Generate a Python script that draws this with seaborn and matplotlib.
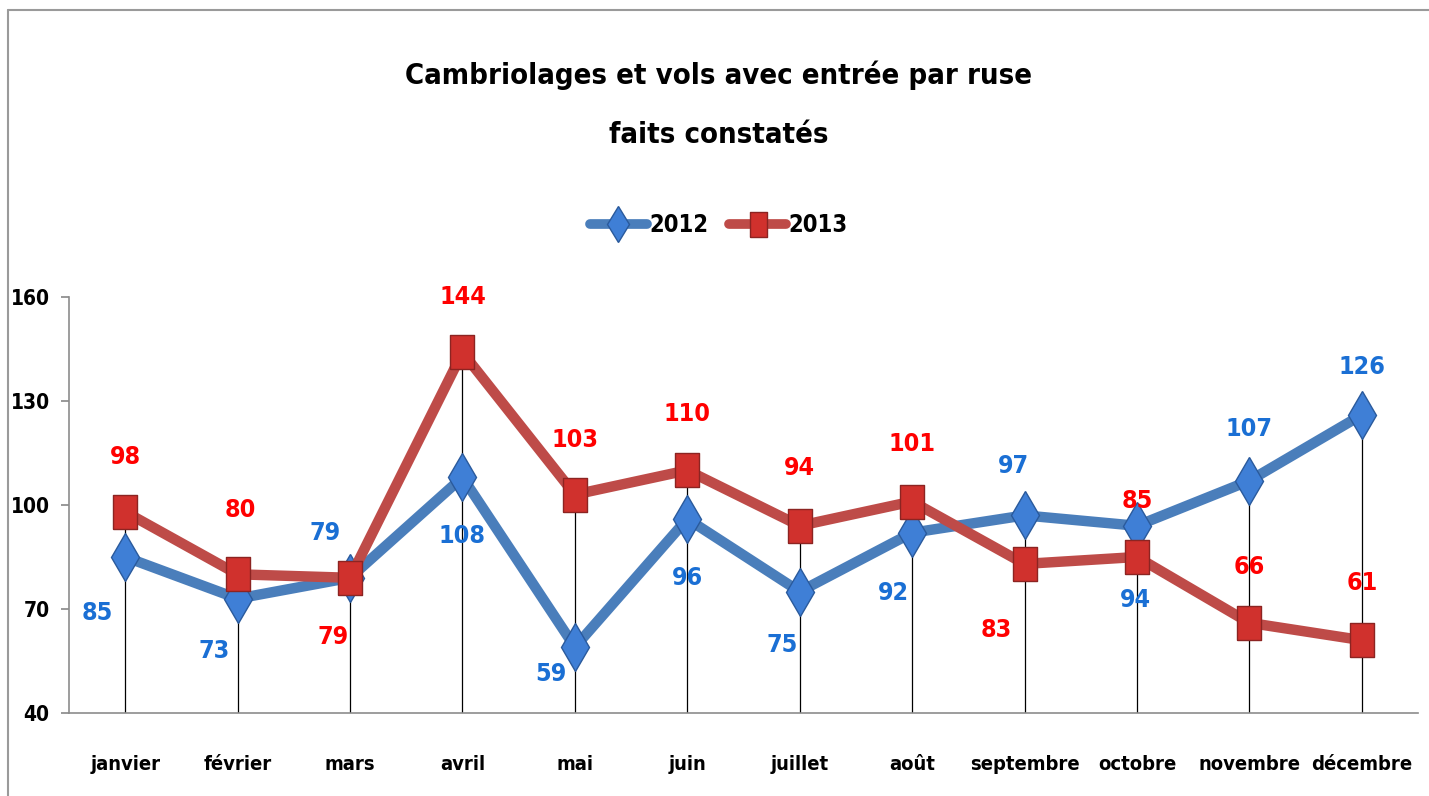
"""Cambriolages et vols avec entrée par ruse - faits constatés 2012/2013."""

import matplotlib
matplotlib.use("Agg")
import matplotlib.pyplot as plt
import pandas as pd
import seaborn as sns
from matplotlib.lines import Line2D

MOIS = ["janvier", "février", "mars", "avril", "mai", "juin", "juillet",
        "août", "septembre", "octobre", "novembre", "décembre"]
VALEURS_2012 = [85, 73, 79, 108, 59, 96, 75, 92, 97, 94, 107, 126]
VALEURS_2013 = [98, 80, 79, 144, 103, 110, 94, 101, 83, 85, 66, 61]
Y_TICKS = [40, 70, 100, 130, 160]

# label offsets in pixels (dx, dy), as placed in the original
OFFSETS_2012 = [(-28, -56), (-24, -52), (-25, 45), (0, -59), (-24, -27), (0, -59),
                (-18, -53), (-19, -60), (-11, 49), (-2, -74), (0, 52), (0, 48)]
OFFSETS_2013 = [(0, 55), (3, 64), (-17, -59), (0, 55), (0, 55), (0, 56),
                (0, 58), (0, 58), (-28, -66), (0, 56), (0, 56), (0, 57)]

BLEU = "#4a7ebb"
ROUGE = "#be4b48"
FONT = ["Liberation Sans Narrow", "DejaVu Sans"]

sns.set_theme(style="white")
plt.rcParams["font.family"] = FONT
plt.rcParams["font.weight"] = "bold"
plt.rcParams["text.color"] = "black"
plt.rcParams["xtick.color"] = "black"
plt.rcParams["ytick.color"] = "black"

df = pd.DataFrame({"mois": MOIS, "2012": VALEURS_2012, "2013": VALEURS_2013})

fig = plt.figure(figsize=(14.29, 7.96), dpi=100)
ax = fig.add_axes([0.0483, 0.1043, 0.9440, 0.5226])

# drop lines
tops = df[["2012", "2013"]].max(axis=1)
ax.vlines(range(len(MOIS)), 40, tops, color="black", linewidth=0.9, zorder=1)

rect = [(-0.34, -0.5), (0.34, -0.5), (0.34, 0.5), (-0.34, 0.5), (-0.34, -0.5)]
sns.lineplot(data=df, x="mois", y="2012", sort=False, ax=ax, color=BLEU, linewidth=7.5,
             marker="d", markersize=24, markerfacecolor="#3f7fd6", markeredgecolor="#2a5a9c",
             markeredgewidth=1, label="2012", zorder=3)
sns.lineplot(data=df, x="mois", y="2013", sort=False, ax=ax, color=ROUGE, linewidth=7.5,
             marker=rect, markersize=25, markerfacecolor="#d0312d", markeredgecolor="#8c2422",
             markeredgewidth=1, label="2013", zorder=4)

for i, (v, off) in enumerate(zip(VALEURS_2012, OFFSETS_2012)):
    ax.annotate(str(v), (i, v), xytext=off, textcoords="offset pixels", ha="center",
                va="center", fontsize=18, fontweight="bold", color="#1a6fd4",
                fontstretch="condensed", zorder=5)
for i, (v, off) in enumerate(zip(VALEURS_2013, OFFSETS_2013)):
    ax.annotate(str(v), (i, v), xytext=off, textcoords="offset pixels", ha="center",
                va="center", fontsize=18, fontweight="bold", color="#ff0000",
                fontstretch="condensed", zorder=5)

ax.set_xlim(-0.5, len(MOIS) - 0.5)
ax.set_ylim(40, 160)
ax.set_yticks(Y_TICKS)
ax.set_xlabel("")
ax.set_ylabel("")
for side in ["top", "right"]:
    ax.spines[side].set_visible(False)
for side in ["left", "bottom"]:
    ax.spines[side].set_color("#8c8c8c")
    ax.spines[side].set_linewidth(1.2)
ax.tick_params(axis="y", left=True, length=6, color="#8c8c8c", pad=8, labelsize=15)
ax.tick_params(axis="x", bottom=False, pad=24, labelsize=14.5)
for lab in ax.get_xticklabels() + ax.get_yticklabels():
    lab.set_fontweight("bold")
    lab.set_fontstretch("condensed")
    lab.set_color("black")

ax.get_legend().remove()
handles = [
    Line2D([], [], color=BLEU, linewidth=7, marker="d", markersize=18,
           markerfacecolor="#3f7fd6", markeredgecolor="#2a5a9c"),
    Line2D([], [], color=ROUGE, linewidth=7, marker=rect, markersize=18,
           markerfacecolor="#d0312d", markeredgecolor="#8c2422"),
]
fig.legend(handles, ["2012", "2013"], loc="center", bbox_to_anchor=(0.503, 1 - 225 / 796),
           ncol=2, frameon=False, handlelength=2.4, handletextpad=0.1, columnspacing=0.9,
           prop={"family": FONT, "weight": "bold", "size": 17, "stretch": "condensed"})

fig.text(0.503, 1 - 75 / 796, "Cambriolages et vols avec entrée par ruse", ha="center",
         va="center", fontsize=21, fontweight="bold", fontstretch="condensed", color="black")
fig.text(0.503, 1 - 135 / 796, "faits constatés", ha="center", va="center",
         fontsize=21, fontweight="bold", fontstretch="condensed", color="black")

# chart area frame (top and left edges visible)
fig.add_artist(Line2D([7.5 / 1429, 1], [1 - 10 / 796] * 2, color="#9a9a9a", linewidth=1.5))
fig.add_artist(Line2D([7.5 / 1429] * 2, [0, 1 - 10 / 796], color="#9a9a9a", linewidth=1.5))

fig.savefig("out.png", dpi=100)
